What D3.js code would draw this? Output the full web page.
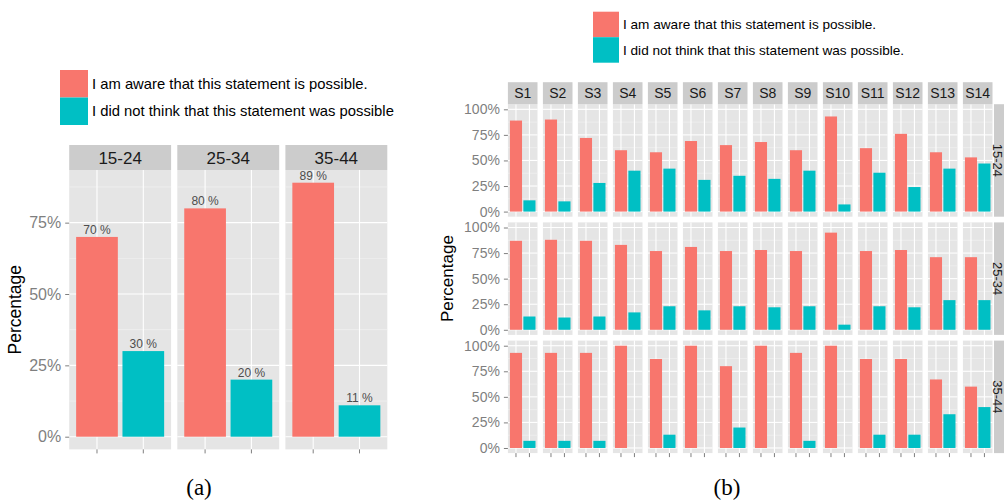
<!DOCTYPE html>
<html>
<head>
<meta charset="utf-8">
<script src="https://cdn.jsdelivr.net/npm/d3@7"></script>
<style>
  html, body { margin: 0; padding: 0; background: #ffffff; }
  svg { display: block; }
</style>
</head>
<body>
<svg id="chart" width="1004" height="502"></svg>
<script>
// ---------- data ----------
const responseKeys = ["aware", "notThought"];
const legendLabelsA = ["I am aware that this statement is possible.",
                       "I did not think that this statement was possible"];
const legendLabelsB = ["I am aware that this statement is possible.",
                       "I did not think that this statement was possible."];

const ageGroups = ["15-24", "25-34", "35-44"];
const awareByAge = [70, 80, 89];
const notThoughtByAge = [30, 20, 11];

const statements = ["S1", "S2", "S3", "S4", "S5", "S6", "S7",
                    "S8", "S9", "S10", "S11", "S12", "S13", "S14"];
const aware1524      = [89, 90, 72, 60, 58, 69, 65, 68, 60, 93, 62, 76, 58, 53];
const notThought1524 = [11, 10, 28, 40, 42, 31, 35, 32, 40,  7, 38, 24, 42, 47];
const aware2534      = [87, 88, 87, 83, 77, 81, 77, 78, 77, 95, 77, 78, 71, 71];
const notThought2534 = [13, 12, 13, 17, 23, 19, 23, 22, 23,  5, 23, 22, 29, 29];
const aware3544      = [93, 93, 93, 100, 87, 100, 80, 100, 93, 100, 87, 87, 67, 60];
const notThought3544 = [ 7,  7,  7,   0, 13,   0, 20,   0,  7,   0, 13, 13, 33, 40];

const yTicksA = [0, 25, 50, 75];
const yTicksB = [0, 25, 50, 75, 100];

// ---------- look ----------
const FONT = "'Liberation Sans', Arial, Helvetica, sans-serif";
const SERIF = "'Liberation Serif', 'Times New Roman', serif";
const PANEL_BG = "#E5E5E5";
const STRIP_BG = "#CCCCCC";
const AXIS_GREY = "#7F7F7F";
const color = d3.scaleOrdinal().domain(responseKeys).range(["#F8766D", "#00BFC4"]);

const svg = d3.select("#chart");

// minor grid values half-way between the major ticks, kept inside the domain
function minorsFor(ticks, domain) {
  const step = ticks[1] - ticks[0];
  const out = [];
  for (let v = ticks[0] - step / 2; v <= domain[1]; v += step) {
    if (v >= domain[0]) out.push(v);
  }
  return out;
}

function styleAxis(sel, size) {
  sel.select(".domain").remove();
  sel.selectAll(".tick line").attr("stroke", AXIS_GREY).attr("stroke-width", 1);
  sel.selectAll(".tick text")
    .attr("fill", AXIS_GREY)
    .style("font-family", FONT)
    .style("font-size", size + "px");
}

// one facet panel: grey background, grid, two bars
function drawPanel(parent, x0, y0, w, h, y, band, bars, majors, minors) {
  const p = parent.append("g").attr("transform", `translate(${x0},${y0})`);
  p.append("rect").attr("width", w).attr("height", h).attr("fill", PANEL_BG);
  p.selectAll("line.minor").data(minors).join("line").attr("class", "minor")
    .attr("x1", 0).attr("x2", w).attr("y1", d => y(d)).attr("y2", d => y(d))
    .attr("stroke", "#F4F4F4").attr("stroke-width", 0.6);
  p.selectAll("line.major").data(majors).join("line").attr("class", "major")
    .attr("x1", 0).attr("x2", w).attr("y1", d => y(d)).attr("y2", d => y(d))
    .attr("stroke", "#FFFFFF").attr("stroke-width", 1.1);
  p.selectAll("line.vmajor").data(band.domain()).join("line").attr("class", "vmajor")
    .attr("x1", d => band(d) + band.bandwidth() / 2).attr("x2", d => band(d) + band.bandwidth() / 2)
    .attr("y1", 0).attr("y2", h)
    .attr("stroke", "#FFFFFF").attr("stroke-width", 1.1);
  p.selectAll("rect.bar").data(bars).join("rect").attr("class", "bar")
    .attr("x", d => band(d.key)).attr("width", band.bandwidth())
    .attr("y", d => y(d.value)).attr("height", d => y(0) - y(d.value))
    .attr("fill", d => color(d.key));
  return p;
}

function drawLegend(x, y, keyW, keyH, labels, size) {
  const g = svg.append("g").attr("transform", `translate(${x},${y})`);
  responseKeys.forEach((k, i) => {
    g.append("rect").attr("x", 0).attr("y", i * keyH).attr("width", keyW).attr("height", keyH)
      .attr("fill", color(k));
    g.append("text").attr("x", keyW + 4).attr("y", i * keyH + keyH / 2)
      .attr("dy", "0.35em")
      .style("font-family", FONT).style("font-size", size + "px").attr("fill", "#000")
      .text(labels[i]);
  });
}

// ================= (a) by age group =================
{
  const left = 69.2, top = 170, w = 101.9, h = 279.4, gap = 6.2, stripH = 25;
  const maxV = d3.max(awareByAge.concat(notThoughtByAge));
  const domain = [-0.05 * maxV, maxV * 1.05];
  const y = d3.scaleLinear().domain(domain).range([h, 0]);
  const band = d3.scaleBand().domain(responseKeys).range([0, w])
    .paddingInner(0.1).paddingOuter(0.15);
  const minors = minorsFor(yTicksA, domain);

  drawLegend(60, 70, 28, 27.5, legendLabelsA, 14.8);

  ageGroups.forEach((age, i) => {
    const x0 = left + i * (w + gap);
    const bars = [
      { key: "aware", value: awareByAge[i] },
      { key: "notThought", value: notThoughtByAge[i] }
    ];
    const p = drawPanel(svg, x0, top, w, h, y, band, bars, yTicksA, minors);

    // value labels above the bars
    p.selectAll("text.val").data(bars).join("text").attr("class", "val")
      .attr("x", d => band(d.key) + band.bandwidth() / 2)
      .attr("y", d => y(d.value) - 3)
      .attr("text-anchor", "middle")
      .style("font-family", FONT).style("font-size", "12px").attr("fill", "#4D4D4D")
      .text(d => d.value + " %");

    // strip
    svg.append("rect").attr("x", x0).attr("y", top - stripH).attr("width", w).attr("height", stripH)
      .attr("fill", STRIP_BG);
    svg.append("text").attr("x", x0 + w / 2).attr("y", top - stripH / 2).attr("dy", "0.36em")
      .attr("text-anchor", "middle")
      .style("font-family", FONT).style("font-size", "17px").attr("fill", "#1A1A1A")
      .text(age);

    // bottom ticks
    const xa = svg.append("g").attr("transform", `translate(${x0},${top + h})`)
      .call(d3.axisBottom(band).tickSize(4).tickFormat(""));
    styleAxis(xa, 12);
  });

  const ya = svg.append("g").attr("transform", `translate(${left},${top})`)
    .call(d3.axisLeft(y).tickValues(yTicksA).tickFormat(d => d + "%").tickSize(4).tickPadding(4));
  styleAxis(ya, 16);

  svg.append("text").attr("transform", `translate(21,${top + h / 2}) rotate(-90)`)
    .attr("text-anchor", "middle")
    .style("font-family", FONT).style("font-size", "17.5px").attr("fill", "#000")
    .text("Percentage");

  svg.append("text").attr("x", 199).attr("y", 495).attr("text-anchor", "middle")
    .style("font-family", SERIF).style("font-size", "23px").attr("fill", "#000")
    .text("(a)");
}

// ================= (b) by statement and age group =================
{
  const left = 507.9, top = 104.2, w = 29.6, h = 112.5, pitchX = 35.0, pitchY = 118.2, stripH = 22;
  const rows = [
    { age: ageGroups[0], aware: aware1524, notThought: notThought1524 },
    { age: ageGroups[1], aware: aware2534, notThought: notThought2534 },
    { age: ageGroups[2], aware: aware3544, notThought: notThought3544 }
  ];
  const maxV = d3.max(rows.flatMap(r => r.aware.concat(r.notThought)));
  const domain = [-0.05 * maxV, maxV * 1.05];
  const y = d3.scaleLinear().domain(domain).range([h, 0]);
  const band = d3.scaleBand().domain(responseKeys).range([0, w])
    .paddingInner(0.1).paddingOuter(0.15);
  const minors = minorsFor(yTicksB, domain);

  drawLegend(593, 11.7, 26, 25.5, legendLabelsB, 13.6);

  rows.forEach((row, r) => {
    const y0 = top + r * pitchY;
    statements.forEach((s, c) => {
      const x0 = left + c * pitchX;
      const bars = [
        { key: "aware", value: row.aware[c] },
        { key: "notThought", value: row.notThought[c] }
      ];
      drawPanel(svg, x0, y0, w, h, y, band, bars, yTicksB, minors);

      if (r === 0) {
        svg.append("rect").attr("x", x0).attr("y", top - stripH).attr("width", w).attr("height", stripH)
          .attr("fill", STRIP_BG);
        svg.append("text").attr("x", x0 + w / 2).attr("y", top - stripH / 2).attr("dy", "0.36em")
          .attr("text-anchor", "middle")
          .style("font-family", FONT).style("font-size", "14px").attr("fill", "#1A1A1A")
          .text(s);
      }
      if (r === rows.length - 1) {
        const xa = svg.append("g").attr("transform", `translate(${x0},${y0 + h})`)
          .call(d3.axisBottom(band).tickSize(4).tickFormat(""));
        styleAxis(xa, 10);
      }
    });

    // row strip on the right
    const sx = left + (statements.length - 1) * pitchX + w + 1.5;
    svg.append("rect").attr("x", sx).attr("y", y0).attr("width", 20).attr("height", h)
      .attr("fill", STRIP_BG);
    svg.append("text").attr("transform", `translate(${sx + 3.8},${y0 + h / 2}) rotate(90)`)
      .attr("text-anchor", "middle").attr("dy", "0.36em")
      .style("font-family", FONT).style("font-size", "13px").attr("fill", "#1A1A1A")
      .text(row.age);

    const ya = svg.append("g").attr("transform", `translate(${left},${y0})`)
      .call(d3.axisLeft(y).tickValues(yTicksB).tickFormat(d => d + "%").tickSize(4).tickPadding(4));
    styleAxis(ya, 14);
  });

  svg.append("text")
    .attr("transform", `translate(453,${top + (rows.length * pitchY - (pitchY - h)) / 2}) rotate(-90)`)
    .attr("text-anchor", "middle")
    .style("font-family", FONT).style("font-size", "17px").attr("fill", "#000")
    .text("Percentage");

  svg.append("text").attr("x", 727).attr("y", 495).attr("text-anchor", "middle")
    .style("font-family", SERIF).style("font-size", "23px").attr("fill", "#000")
    .text("(b)");
}
</script>
</body>
</html>
